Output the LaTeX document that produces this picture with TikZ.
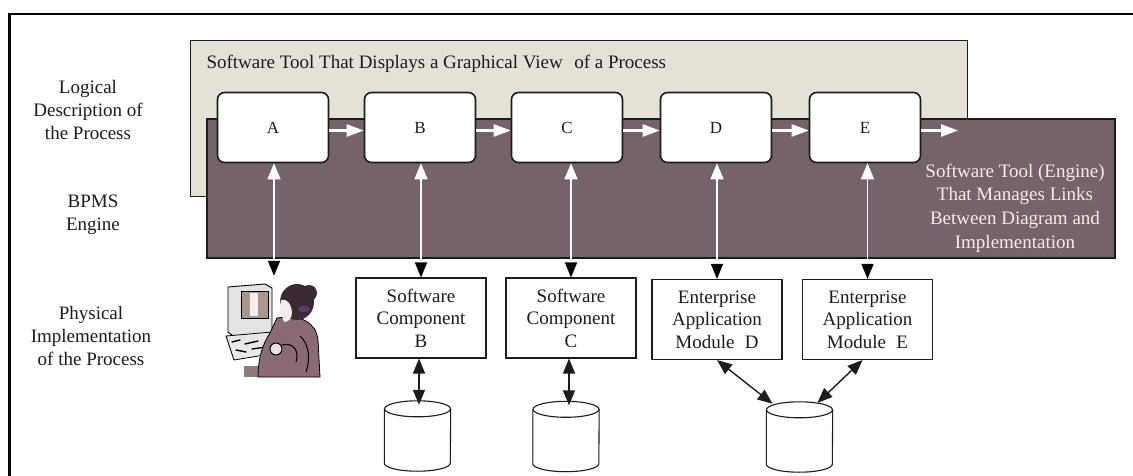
\documentclass[tikz,border=0pt]{standalone}
\usepackage{fontspec}
\setmainfont{Liberation Serif}
\usetikzlibrary{arrows.meta,calc}

\definecolor{panellight}{HTML}{E4E1D6}
\definecolor{paneldark}{HTML}{76626A}
\definecolor{inkgray}{HTML}{1C1C1C}
\definecolor{enginetext}{HTML}{F3EEE4}
\definecolor{hairdark}{HTML}{3B2A33}
\definecolor{dressmauve}{HTML}{8A6A73}
\definecolor{screenmauve}{HTML}{A8968F}
\definecolor{deskbrown}{HTML}{8D7D7A}
\definecolor{ribbonpurple}{HTML}{5A3A70}

% database cylinder drawn around an empty node
\newcommand\drawdb[1]{%
  \draw[dbline] ([yshift=-8pt]#1.north west) -- ([yshift=8pt]#1.south west)
    arc[start angle=180,end angle=360,x radius=33pt,y radius=8pt]
    -- ([yshift=-8pt]#1.north east);
  \draw[dbline] ([yshift=-8pt]#1.north) ellipse[x radius=33pt,y radius=8pt];
}

\begin{document}
\begin{tikzpicture}[x=1pt,y=-1pt,
  every node/.style={font=\fontsize{19}{23}\selectfont, text=inkgray},
  proc/.style={draw=inkgray, line width=1.6pt, fill=white, rounded corners=7pt,
    minimum width=111pt, minimum height=70pt, inner sep=0pt},
  comp/.style={draw=inkgray, line width=1.1pt, fill=white, minimum width=130pt,
    minimum height=80pt, inner sep=0pt, align=center,
    font=\fontsize{19}{22.5}\selectfont},
  dbnode/.style={minimum width=66pt, minimum height=70pt, inner sep=0pt},
  dbline/.style={draw=inkgray, line width=1.1pt, fill=white},
  sidelabel/.style={align=center},
  flowarrow/.style={draw=white, line width=2.4pt,
    -{Triangle[length=17pt,width=12pt,color=white]}},
  linkarrow/.style={draw=white, line width=1.5pt,
    {Triangle[length=16pt,width=13pt,color=white]}-{Triangle[length=15pt,width=12pt,color=black]}},
  dataarrow/.style={draw=inkgray, line width=1.4pt,
    {Triangle[length=15pt,width=12pt]}-{Triangle[length=15pt,width=12pt]}},
]
\useasboundingbox (0,0) rectangle (1133,476);
\fill[white] (0,0) rectangle (1133,476);

% outer frame (top and left edges)
\draw[line width=2.6pt, black] (9.5,476) -- (9.5,14) -- (1133,14);

% graphical tool panel and engine panel
\draw[fill=panellight, draw=inkgray, line width=0.9pt] (190,40) rectangle (967,196);
\draw[fill=paneldark, draw=inkgray, line width=1.2pt] (207,119) rectangle (1115,258);

\node[anchor=base west] (title) at (203,69) {Software Tool That Displays a Graphical View\hspace{0.35em} of a Process};
\node[text=enginetext, align=center, font=\fontsize{19}{23.6}\selectfont] (engtext) at (1015,208)
  {Software Tool (Engine)\\That Manages Links\\Between Diagram and\\Implementation};

% row labels
\node[sidelabel] (lbllogic) at (88,110) {Logical\\Description of\\the Process};
\node[sidelabel] (lblengine) at (93,215) {BPMS\\Engine};
\node[sidelabel] (lblphys) at (91,336) {Physical\\Implementation\\of the Process};

% process steps
\node[proc, font=\fontsize{17}{20}\selectfont] (A) at (273,127.5) {A};
\node[proc, font=\fontsize{17}{20}\selectfont] (B) at (420,127.5) {B};
\node[proc, font=\fontsize{17}{20}\selectfont] (C) at (567,127.5) {C};
\node[proc, font=\fontsize{17}{20}\selectfont] (D) at (716,127.5) {D};
\node[proc, font=\fontsize{17}{20}\selectfont] (E) at (865,127.5) {E};
\coordinate (flowend) at (958,130.5);

% physical implementation
\node[comp] (cB) at (421,318) {Software\\Component\\B};
\node[comp] (cC) at (571,318) {Software\\Component\\C};
\node[comp] (cD) at (717,319.5) {Enterprise\\Application\\Module\hspace{0.3em} D};
\node[comp] (cE) at (867.5,319.5) {Enterprise\\Application\\Module\hspace{0.3em} E};

\node[dbnode] (dbB) at (417.5,436) {};
\node[dbnode] (dbC) at (566,436.5) {};
\node[dbnode] (dbDE) at (799.5,437) {};
\drawdb{dbB}
\drawdb{dbC}
\drawdb{dbDE}

% user at a workstation
\node[minimum width=100pt, minimum height=102pt, inner sep=0pt] (user) at (274,327) {};
\begin{scope}[line join=round]
  \draw[line width=0.9pt, fill=gray!22] (228,287) -- (265,284) -- (272,288) -- (272,333) -- (233,336) -- (228,332) -- cycle;
  \fill[screenmauve] (241,291) rectangle (268,318);
  \fill[white!85!screenmauve] (250,293) rectangle (258,316);
  \draw[line width=0.9pt] (241,291) rectangle (268,318);
  \draw[line width=0.8pt, fill=gray!18] (226,336) -- (272,332) -- (283,352) -- (234,360) -- cycle;
  \draw[line width=1.4pt, line cap=round] (232,342) -- (240,340) (245,344) -- (258,341)
    (236,350) -- (246,352) (252,349) -- (266,347) (262,355) -- (272,353);
  \fill[deskbrown] (244,366) rectangle (320,377);
  \draw[line width=0.8pt, fill=dressmauve] (277,318) .. controls (300,314) and (316,322) .. (318,340)
    -- (320,377) -- (258,377) .. controls (258,360) and (262,345) .. (270,333) -- cycle;
  \draw[line width=1pt, fill=gray!20] (276,349) circle[radius=6pt];
  \draw[line width=1pt] (282,345) .. controls (292,342) and (300,350) .. (296,362);
  \draw[line width=1pt] (300,336) .. controls (310,345) and (310,360) .. (306,372);
  \fill[hairdark] (297,302) ellipse[x radius=17pt, y radius=18pt];
  \fill[hairdark] (309,293) circle[radius=8pt];
  \fill[ribbonpurple] (304,309) ellipse[x radius=6pt, y radius=3pt];
  \fill[white!88!dressmauve] (281,300) .. controls (286,298) and (291,303) .. (292,312)
    .. controls (292,318) and (289,322) .. (284,322) -- (282,316) -- (279,312) -- cycle;
\end{scope}

% flow between process steps
\draw[flowarrow] ([yshift=-3pt]A.east) -- ([yshift=-3pt]B.west);
\draw[flowarrow] ([yshift=-3pt]B.east) -- ([yshift=-3pt]C.west);
\draw[flowarrow] ([yshift=-3pt]C.east) -- ([yshift=-3pt]D.west);
\draw[flowarrow] ([yshift=-3pt]D.east) -- ([yshift=-3pt]E.west);
\draw[flowarrow] ([yshift=-3pt]E.east) -- (flowend);

% engine links between diagram and implementation
\draw[linkarrow] (user.north |- A.south) -- (user.north);
\draw[linkarrow] (cB.north |- B.south) -- (cB.north);
\draw[linkarrow] (cC.north |- C.south) -- (cC.north);
\draw[linkarrow] (cD.north |- D.south) -- (cD.north);
\draw[linkarrow] (cE.north |- E.south) -- (cE.north);

% data access
\draw[dataarrow] ([xshift=-2pt]cB.south) -- ([xshift=-2pt,yshift=-4pt]cB.south |- dbB.north);
\draw[dataarrow] ([xshift=-2pt]cC.south) -- ([xshift=-2pt,yshift=-4pt]cC.south |- dbC.north);
\draw[dataarrow] (cD.south) -- ([xshift=-27pt,yshift=-2pt]dbDE.north);
\draw[dataarrow] ([xshift=-5pt]cE.south) -- ([xshift=18pt,yshift=-1pt]dbDE.north);
\end{tikzpicture}
\end{document}
